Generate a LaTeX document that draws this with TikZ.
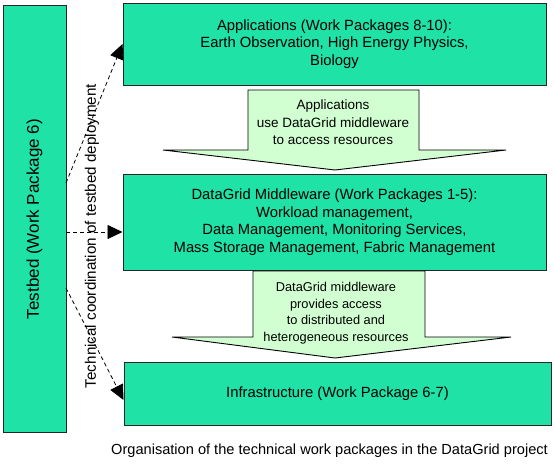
\documentclass[tikz,border=0pt]{standalone}
\usepackage{fontspec}
\setmainfont{Liberation Sans}
\usetikzlibrary{arrows.meta}
\definecolor{boxgreen}{RGB}{30,226,166}
\definecolor{arrowgreen}{RGB}{210,255,210}
\tikzset{
  wpbox/.style={draw=black!85, line width=1pt, fill=boxgreen, align=center, inner sep=0pt,
    font=\fontsize{14.8}{17.5}\selectfont},
  flowarrow/.style={draw=black, line width=0.9pt, fill=arrowgreen, line join=miter},
  flowtext/.style={align=center, inner sep=0pt, font=\fontsize{13.5}{17.5}\selectfont},
  coordarrow/.style={draw=black, line width=0.8pt, dash pattern=on 4pt off 3pt,
    -{Triangle[length=15pt,width=14pt]}},
}
\begin{document}
\begin{tikzpicture}[x=1pt,y=-1pt]
\useasboundingbox (0,0) rectangle (555,464);
% boxes
\node[wpbox, minimum width=63, minimum height=427] (tb) at (34.5,218.5) {};
\node[rotate=90, font=\fontsize{17}{19}\selectfont] (tbtext) at (34.5,219) {Testbed (Work Package 6)};
\node[wpbox, minimum width=423, minimum height=82] (app) at (334.5,44)
  {Applications (Work Packages 8-10):\\Earth Observation, High Energy Physics,\\Biology};
\node[wpbox, minimum width=423, minimum height=96] (dg) at (334.5,222)
  {DataGrid Middleware (Work Packages 1-5):\\Workload management,\\Data Management, Monitoring Services,\\Mass Storage Management, Fabric Management};
\node[wpbox, minimum width=427, minimum height=63] (inf) at (337.5,393.5)
  {Infrastructure (Work Package 6-7)};
% flow arrows
\path[flowarrow] (248,90) -- (419,90) -- (419,150) -- (506,150) -- (335,170) -- (163,150) -- (248,150) -- cycle;
\node[flowtext] (f1) at (333,122.5) {Applications\\use DataGrid middleware\\to access resources};
\path[flowarrow] (253,271) -- (425,271) -- (425,337) -- (511,337) -- (335,358) -- (172,337) -- (253,337) -- cycle;
\node[flowtext, font=\fontsize{12.8}{16.5}\selectfont] (f2) at (336,313) {DataGrid middleware\\provides access\\to distributed and\\heterogeneous resources};
% coordination arrows
\coordinate (s1) at (66,183);
\coordinate (s2) at (66,232);
\coordinate (s3) at (66,288);
\coordinate (t1) at (app.west |- 0,44);
\coordinate (t2) at (dg.west |- 0,232);
\coordinate (t3) at (inf.west |- 0,400);
\draw[coordarrow] (s1) -- (t1);
\draw[coordarrow] (s2) -- (t2);
\draw[coordarrow] (s3) -- (t3);
\node[rotate=90, font=\fontsize{15.2}{17}\selectfont] (coordtext) at (92,236) {Technical coordination of testbed deployment};
% caption
\node[font=\fontsize{14.6}{17}\selectfont] (cap) at (329.5,451) {Organisation of the technical work packages in the DataGrid project};
\end{tikzpicture}
\end{document}
